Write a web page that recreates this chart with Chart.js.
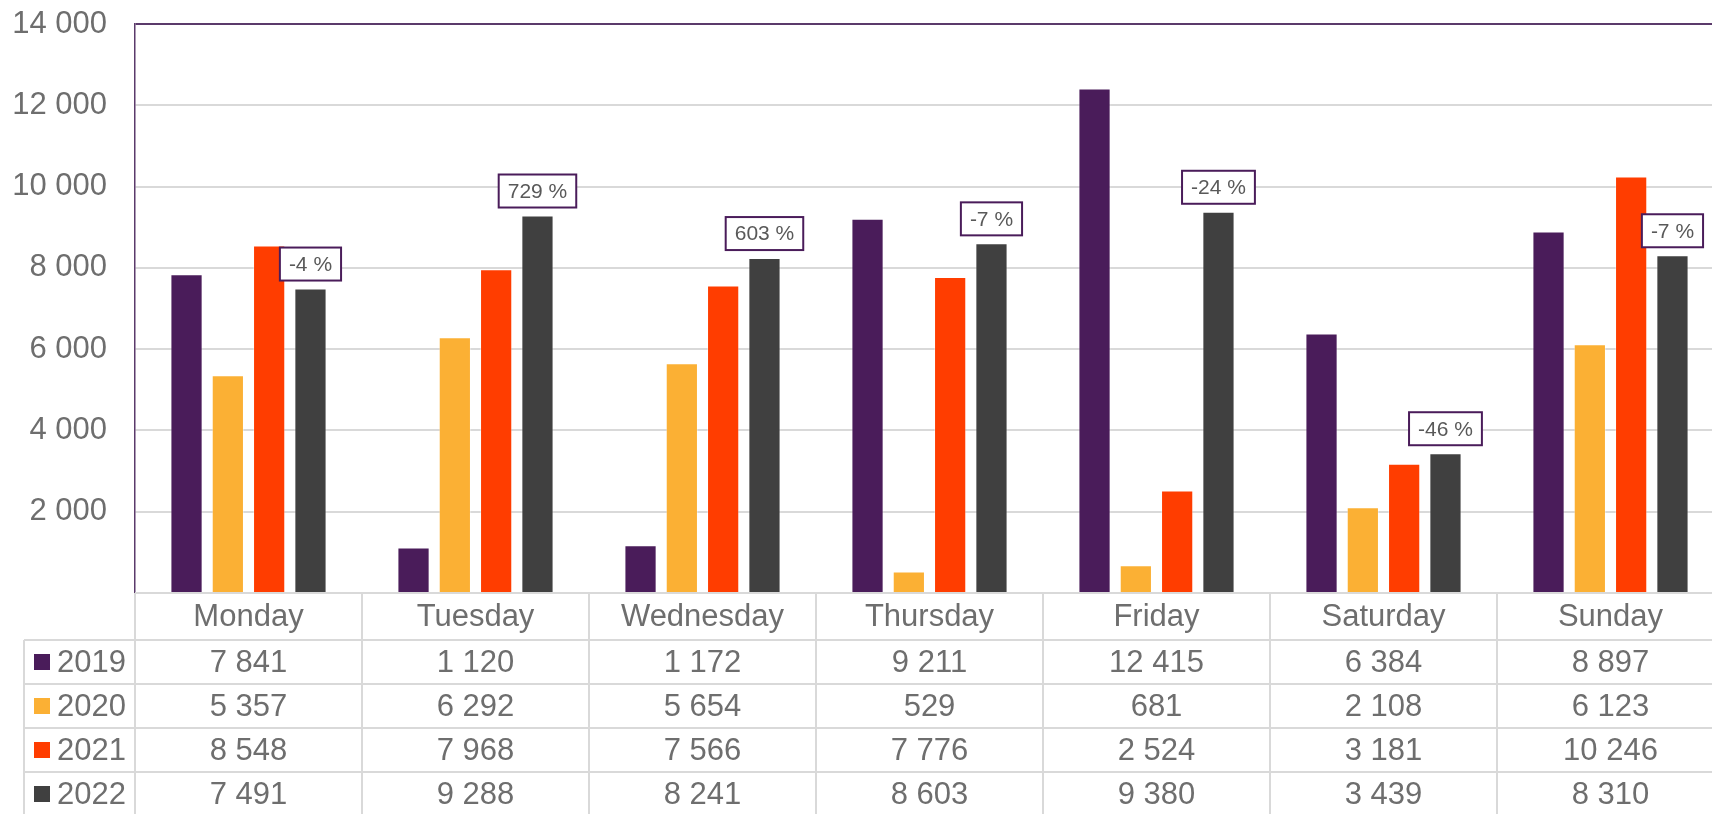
<!DOCTYPE html>
<html>
<head>
<meta charset="utf-8">
<script src="https://cdn.jsdelivr.net/npm/chart.js@4"></script>
<style>
  html, body { margin: 0; padding: 0; background: #fff; overflow: hidden; }
  #wrap { width: 1730px; height: 814px; }
</style>
</head>
<body>
<div id="wrap"><canvas id="chart"></canvas></div>
<script>
const days = ["Monday", "Tuesday", "Wednesday", "Thursday", "Friday", "Saturday", "Sunday"];
const years = ["2019", "2020", "2021", "2022"];
const v2019 = [7841, 1120, 1172, 9211, 12415, 6384, 8897];
const v2020 = [5357, 6292, 5654, 529, 681, 2108, 6123];
const v2021 = [8548, 7968, 7566, 7776, 2524, 3181, 10246];
const v2022 = [7491, 9288, 8241, 8603, 9380, 3439, 8310];
const changeLabels = ["-4 %", "729 %", "603 %", "-7 %", "-24 %", "-46 %", "-7 %"];
const colors = ["#4a1c5a", "#fbb034", "#ff3d00", "#404040"];

const FONT = "'Liberation Sans', Arial, sans-serif";
const TEXT = "#6e6e6e";
const LINE = "#d9d9d9";
const PURPLE = "#5b3a6b";

function fmt(n) {
  return String(n).replace(/\B(?=(\d{3})+(?!\d))/g, " ");
}

const series = [v2019, v2020, v2021, v2022];

// percent change boxes above the 2022 bars
const changeBoxes = {
  id: "changeBoxes",
  afterDatasetsDraw(chart) {
    const ctx = chart.ctx;
    const meta = chart.getDatasetMeta(3);
    ctx.save();
    ctx.font = "21px " + FONT;
    ctx.textAlign = "center";
    ctx.textBaseline = "middle";
    meta.data.forEach((bar, i) => {
      const txt = changeLabels[i];
      const w = ctx.measureText(txt).width + 18;
      const h = 33;
      const x = bar.x - w / 2;
      const y = bar.y - 8 - h;
      ctx.fillStyle = "#fff";
      ctx.fillRect(x, y, w, h);
      ctx.lineWidth = 2;
      ctx.strokeStyle = "#4a1c5a";
      ctx.strokeRect(x, y, w, h);
      ctx.fillStyle = "#595959";
      ctx.fillText(txt, bar.x, y + h / 2 + 1);
    });
    ctx.restore();
  }
};

// data table under the plot
const dataTable = {
  id: "dataTable",
  afterDraw(chart) {
    const ctx = chart.ctx;
    const area = chart.chartArea;
    const xs = chart.scales.x;
    const headerH = 47, rowH = 44;
    const top = area.bottom;
    const bottom = chart.height;
    const half = (xs.getPixelForValue(1) - xs.getPixelForValue(0)) / 2;
    const legLeft = 24;

    ctx.save();
    ctx.strokeStyle = LINE;
    ctx.lineWidth = 2;
    ctx.beginPath();
    ctx.moveTo(area.left, top); ctx.lineTo(chart.width, top);
    for (let r = 0; r < years.length; r++) {
      const y = top + headerH + r * rowH;
      ctx.moveTo(legLeft, y); ctx.lineTo(chart.width, y);
    }
    ctx.moveTo(legLeft, top + headerH); ctx.lineTo(legLeft, bottom);
    ctx.moveTo(area.left, top); ctx.lineTo(area.left, bottom);
    days.forEach((d, i) => {
      const bx = xs.getPixelForValue(i) + half;
      ctx.moveTo(bx, top); ctx.lineTo(bx, bottom);
    });
    ctx.stroke();

    ctx.font = "31px " + FONT;
    ctx.fillStyle = TEXT;
    ctx.textBaseline = "middle";
    ctx.textAlign = "center";
    days.forEach((d, i) => {
      ctx.fillText(d, xs.getPixelForValue(i), top + headerH / 2 + 1);
    });
    years.forEach((yr, r) => {
      const cy = top + headerH + r * rowH + rowH / 2 + 1;
      ctx.fillStyle = colors[r];
      ctx.fillRect(34, cy - 9, 16, 16);
      ctx.fillStyle = TEXT;
      ctx.textAlign = "left";
      ctx.fillText(yr, 57, cy);
      ctx.textAlign = "center";
      series[r].forEach((v, i) => {
        ctx.fillText(fmt(v), xs.getPixelForValue(i), cy);
      });
    });
    ctx.restore();
  }
};

new Chart(document.getElementById("chart").getContext("2d"), {
  type: "bar",
  data: {
    labels: days,
    datasets: years.map((yr, k) => ({
      label: yr,
      data: series[k],
      backgroundColor: colors[k],
      borderColor: "rgba(255,255,255,0.35)",
      borderWidth: 1,
      categoryPercentage: 0.728,
      barPercentage: 0.78
    }))
  },
  options: {
    responsive: true,
    maintainAspectRatio: false,
    animation: false,
    layout: { padding: { left: 0, top: 24, right: 6, bottom: 221 } },
    plugins: { legend: { display: false }, tooltip: { enabled: false } },
    scales: {
      x: { display: false },
      y: {
        min: 0,
        max: 14000,
        afterFit(s) { s.width = 135; s.paddingTop = 0; s.paddingBottom = 0; },
        ticks: {
          stepSize: 2000,
          padding: 28,
          color: TEXT,
          font: { family: FONT, size: 31 },
          callback: v => (v === 0 ? "" : fmt(v))
        },
        grid: {
          drawTicks: false,
          lineWidth: 2,
          color: c => (c.tick && c.tick.value === 14000 ? PURPLE : LINE)
        },
        border: { color: PURPLE, width: 1.5 }
      }
    }
  },
  plugins: [changeBoxes, dataTable]
});
</script>
</body>
</html>
